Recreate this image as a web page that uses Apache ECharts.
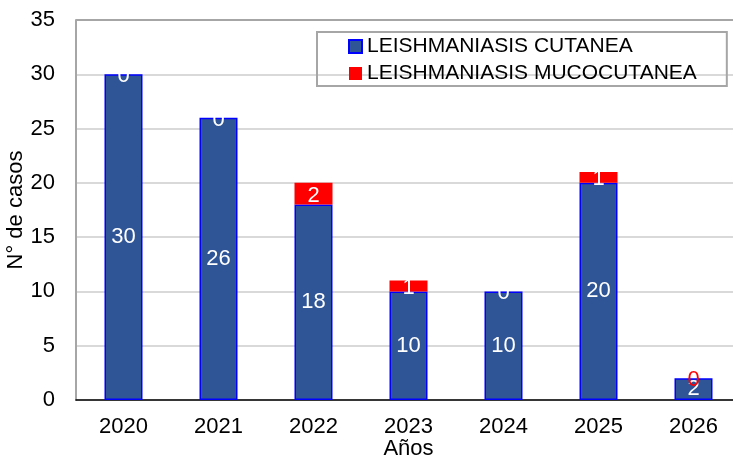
<!DOCTYPE html>
<html>
<head>
<meta charset="utf-8">
<script src="https://cdn.jsdelivr.net/npm/echarts@6/dist/echarts.min.js"></script>
<style>
  html, body { margin: 0; padding: 0; background: #fff; }
  #chart { width: 733px; height: 459px; }
</style>
</head>
<body>
<div id="chart"></div>
<script>
const years = ['2020', '2021', '2022', '2023', '2024', '2025', '2026'];
const cutanea = [30, 26, 18, 10, 10, 20, 2];
const mucocutanea = [0, 0, 2, 1, 0, 1, 0];
const yTicks = [0, 5, 10, 15, 20, 25, 30, 35];

const chart = echarts.init(document.getElementById('chart'));

// the last value of the red series is drawn in red in the picture
const mucoData = mucocutanea.map((v, i) => {
  if (i === mucocutanea.length - 1) return { value: v, label: { color: '#ff0000' } };
  return v;
});

const option = {
  animation: false,
  textStyle: { fontFamily: 'Liberation Sans, Arial, sans-serif' },
  grid: { left: 76, right: -8, top: 20, bottom: 59, outerBoundsMode: 'none' },
  legend: {
    orient: 'vertical',
    left: 317,
    top: 32,
    icon: 'rect',
    itemWidth: 13,
    itemHeight: 13,
    itemGap: 6,
    padding: [4, 30, 2, 31],
    borderColor: '#a6a6a6',
    borderWidth: 2,
    textStyle: { fontSize: 21, color: '#000' },
    data: ['LEISHMANIASIS CUTANEA', 'LEISHMANIASIS MUCOCUTANEA']
  },
  xAxis: {
    type: 'category',
    data: years,
    name: 'Años',
    nameLocation: 'middle',
    nameGap: 38,
    nameMoveOverlap: false,
    nameTextStyle: { fontSize: 22, color: '#000' },
    axisLine: { lineStyle: { color: '#000', width: 1.5 } },
    axisTick: { show: false },
    axisLabel: { fontSize: 22, color: '#000', margin: 16 }
  },
  yAxis: {
    type: 'value',
    min: 0,
    max: 35,
    interval: 5,
    name: 'N° de casos',
    nameLocation: 'middle',
    nameGap: 49,
    nameMoveOverlap: false,
    nameTextStyle: { fontSize: 22, color: '#000' },
    axisLine: { show: true, lineStyle: { color: '#a6a6a6', width: 2 } },
    axisTick: { show: false },
    axisLabel: {
      fontSize: 22, color: '#000', margin: 21,
      formatter: v => yTicks.includes(v) ? String(v) : ''
    },
    splitLine: { lineStyle: { color: '#d9d9d9', width: 2 } }
  },
  series: [
    {
      name: 'LEISHMANIASIS CUTANEA',
      type: 'bar',
      stack: 'total',
      barWidth: '40%',
      data: cutanea,
      itemStyle: { color: '#2f5597', borderColor: '#0000ff', borderWidth: 1.5 },
      label: { show: true, position: 'inside', color: '#fff', fontSize: 22 }
    },
    {
      name: 'LEISHMANIASIS MUCOCUTANEA',
      type: 'bar',
      stack: 'total',
      barWidth: '40%',
      data: mucoData,
      itemStyle: { color: '#ff0000' },
      label: { show: true, position: 'inside', color: '#fff', fontSize: 22, offset: [0, 2] }
    }
  ]
};

chart.setOption(option);

// top border of the plot area
chart.setOption({
  graphic: [{
    type: 'line',
    shape: { x1: 76, y1: 20, x2: 733, y2: 20 },
    style: { stroke: '#a6a6a6', lineWidth: 2 }
  }]
});
</script>
</body>
</html>
